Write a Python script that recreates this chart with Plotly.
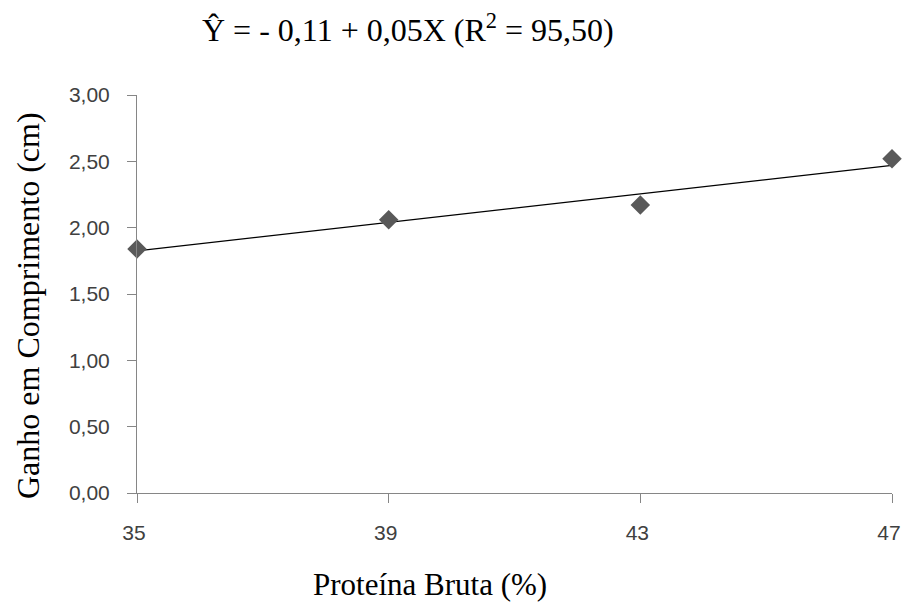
import numpy as np
import plotly.graph_objects as go

protein = [35, 39, 43, 47]
gain = [1.84, 2.06, 2.17, 2.52]
x_ticks = [35, 39, 43, 47]
y_ticks = [0, 0.5, 1.0, 1.5, 2.0, 2.5, 3.0]

# linear trend line fitted to the observed points
slope, intercept = np.polyfit(protein, gain, 1)
trend_x = [min(protein), max(protein)]
trend_y = [intercept + slope * v for v in trend_x]

fig = go.Figure()
fig.add_trace(go.Scatter(x=trend_x, y=trend_y, mode="lines",
                         line=dict(color="black", width=1.2),
                         cliponaxis=False, showlegend=False))
fig.add_trace(go.Scatter(x=protein, y=gain, mode="markers",
                         marker=dict(symbol="diamond", size=15, color="#595959"),
                         cliponaxis=False, showlegend=False))

axis_font = dict(family="Liberation Sans, Arial", size=21, color="#404040")
serif = "Liberation Serif, Times New Roman"

# page has an 8px body margin; plot area in window pixels
OFF = 8
pl, pr, pt, pb = 137, 892, 95, 493
W, H = 894, 594

fig.update_layout(
    width=W, height=H,
    paper_bgcolor="white", plot_bgcolor="white",
    separators=",.",
    margin=dict(l=pl - OFF, r=OFF + W - pr, t=pt - OFF, b=OFF + H - pb),
    xaxis=dict(range=[35, 47], tickvals=x_ticks, ticks="outside", ticklen=9,
               tickcolor="#868686", showline=True, linecolor="#868686", linewidth=1,
               showgrid=False, zeroline=False, tickfont=axis_font, ticklabelstandoff=12,
               ticklabelshift=-3, ticklabeloverflow="allow", automargin=False),
    yaxis=dict(range=[0, 3], tickvals=y_ticks, tickformat=".2f", ticks="outside", ticklen=9,
               tickcolor="#868686", showline=True, linecolor="#868686", linewidth=1,
               showgrid=False, zeroline=False, tickfont=axis_font, ticklabelstandoff=13,
               automargin=False),
)

def px2paper(x, y):
    return (x - pl) / (pr - pl), (pb - y) / (pb - pt)

notes = [
    ("Ŷ = - 0,11 + 0,05X (R<sup>2</sup> = 95,50)", 408, 28, 0, 32),
    ("Proteína Bruta (%)", 430, 584, 0, 31),
    ("Ganho em Comprimento (cm)", 28, 306, -90, 32),
]
for text, x, y, ang, size in notes:
    ax, ay = px2paper(x, y)
    fig.add_annotation(text=text, x=ax, y=ay, xref="paper", yref="paper",
                       xanchor="center", yanchor="middle", textangle=ang,
                       showarrow=False, font=dict(family=serif, size=size, color="black"))

fig.write_html("out.html")
